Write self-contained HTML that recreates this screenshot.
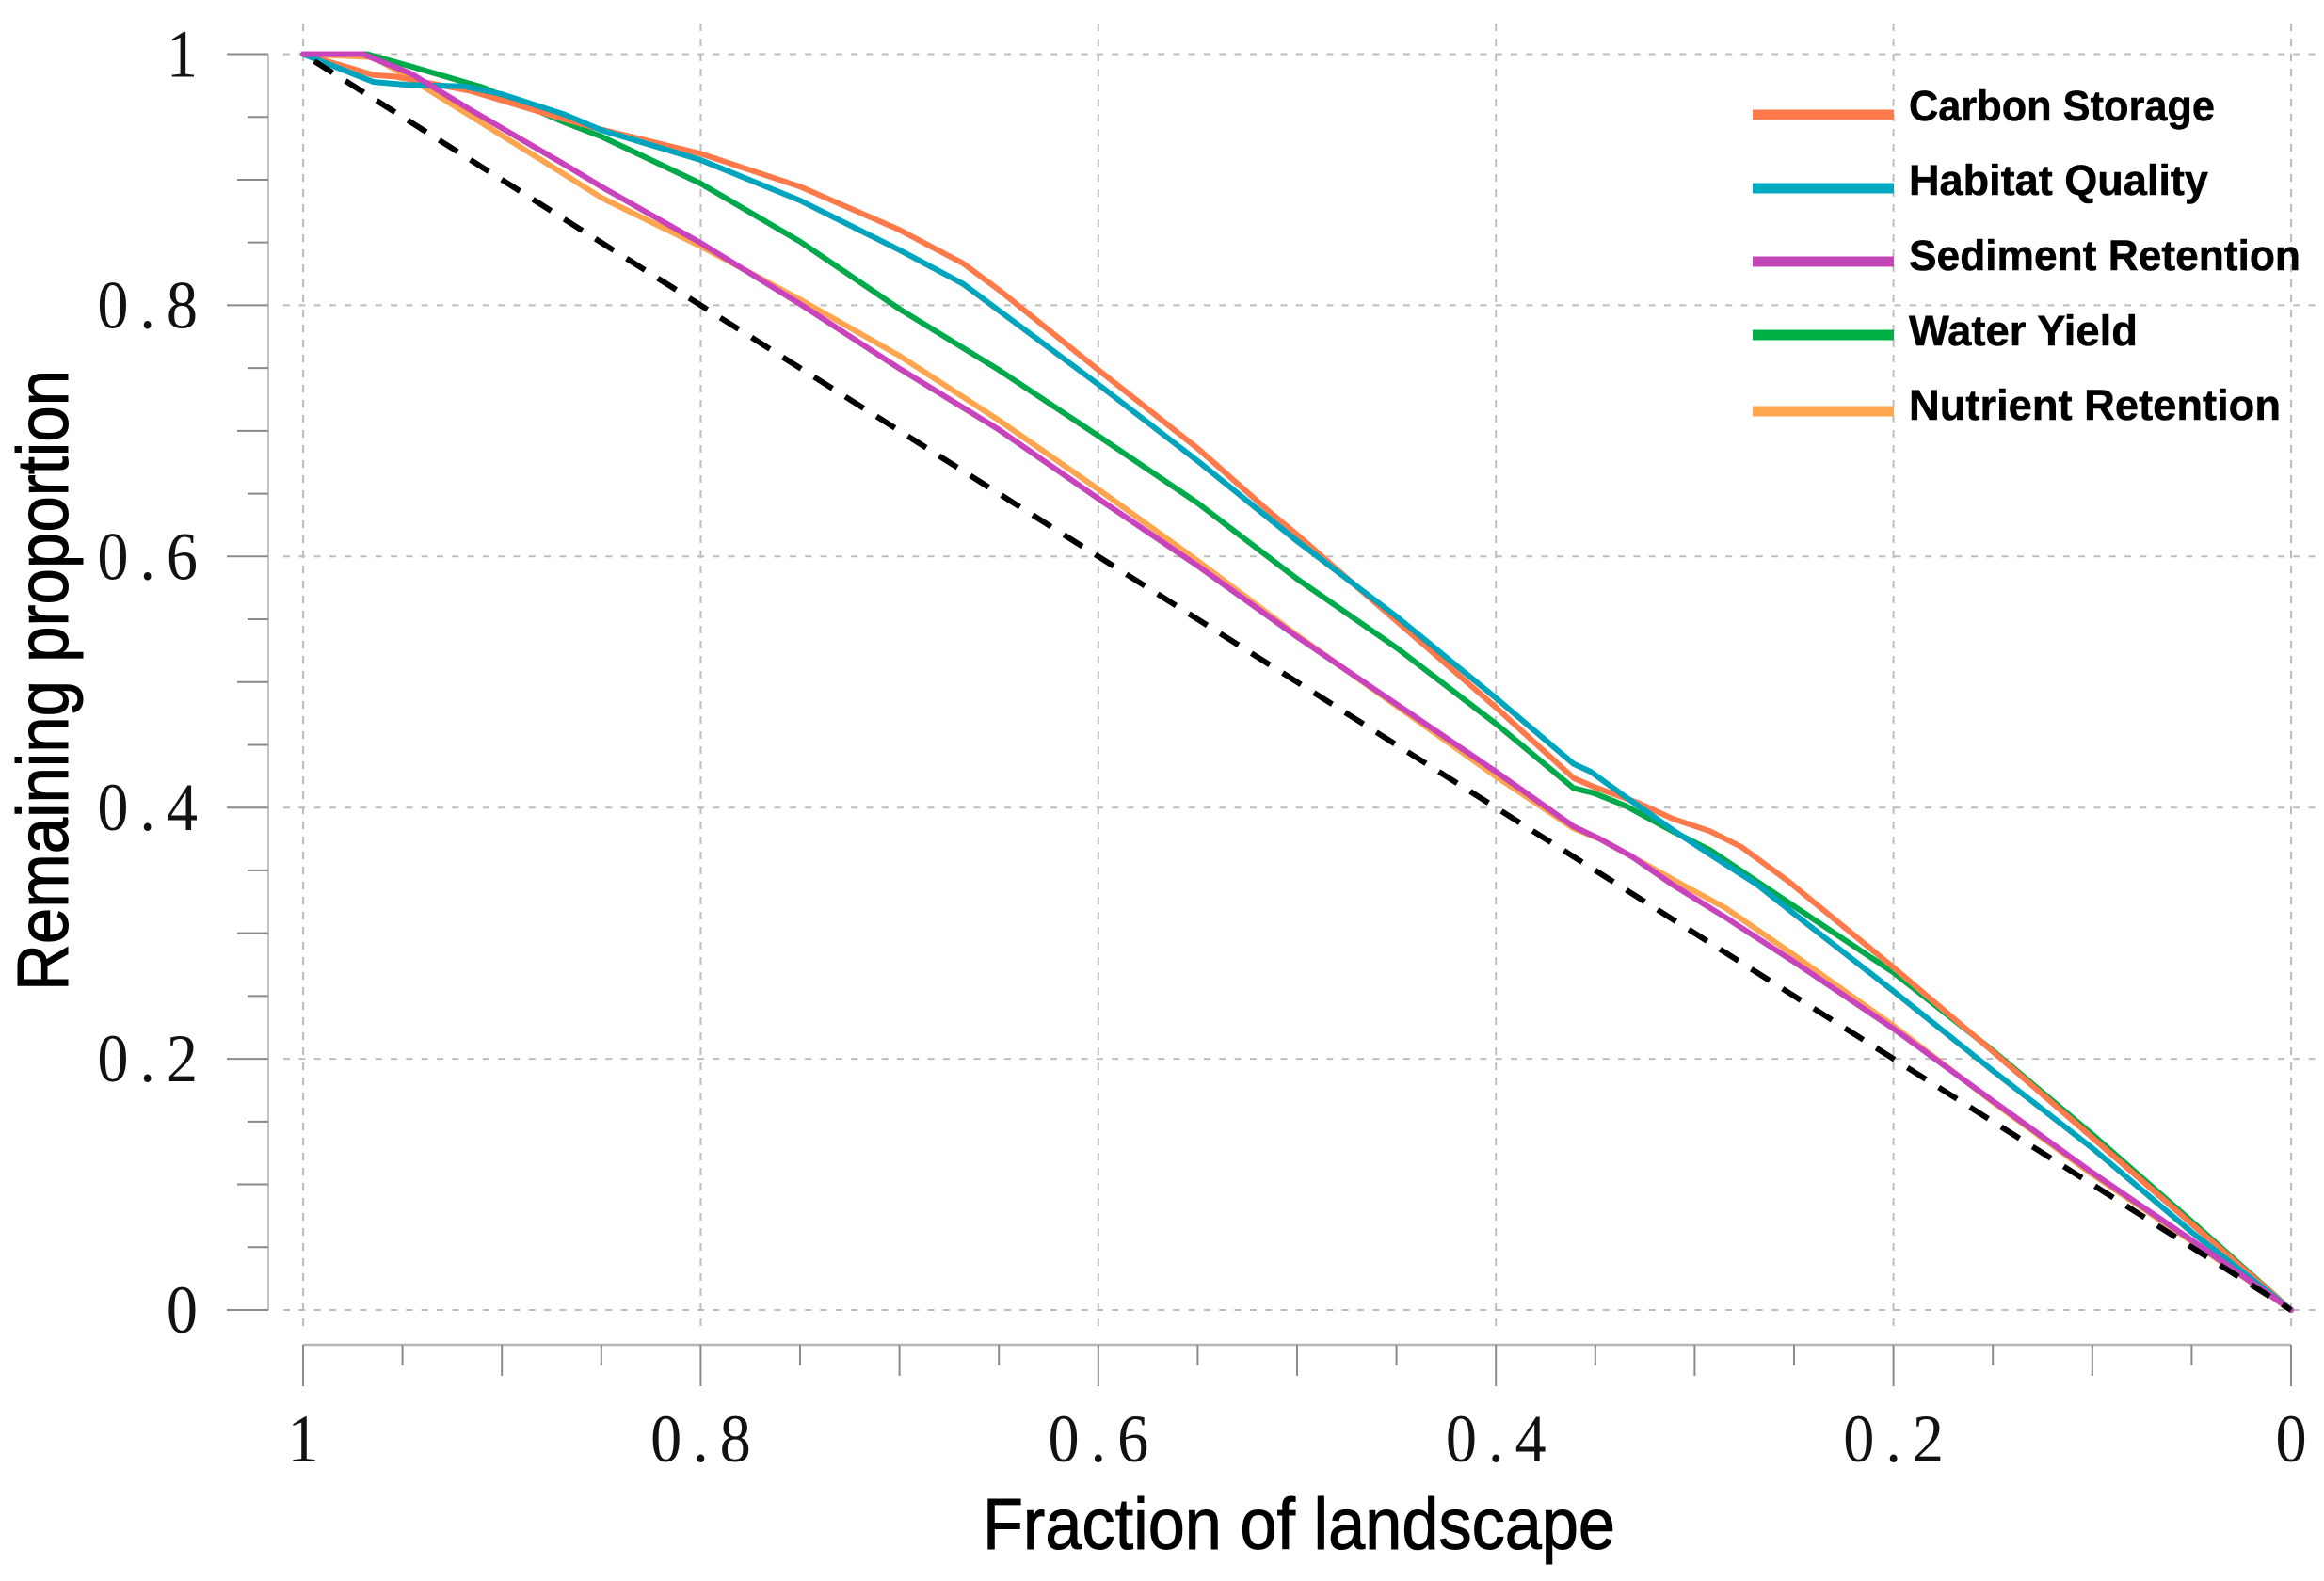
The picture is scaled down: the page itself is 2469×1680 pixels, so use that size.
<!DOCTYPE html>
<html lang="en">
<head>
<meta charset="utf-8">
<title>Remaining proportion vs fraction of landscape</title>
<style>
  html, body { margin: 0; padding: 0; background: #fff; }
  svg { display: block; }
  .tick-label { font-family: "Liberation Serif", serif; font-size: 72px; fill: #111; letter-spacing: 13px; }
  .axis-title { font-family: "Liberation Sans", sans-serif; font-size: 77px; fill: #000; stroke: #000; stroke-width: 1; }
  .legend-label { font-family: "Liberation Sans", sans-serif; font-weight: bold; font-size: 45px; fill: #000; stroke: #000; stroke-width: 0.5; }
</style>
</head>
<body>
<svg id="chart" xmlns="http://www.w3.org/2000/svg" width="2469" height="1680" viewBox="0 0 2469 1680">
  <rect x="0" y="0" width="2469" height="1680" fill="#ffffff"></rect>
  <g id="grid"></g>
  <g id="axes"></g>
  <g id="marks"></g>
  <g id="legend"></g>
  <text class="axis-title" x="1044" y="1646" textLength="672" lengthAdjust="spacingAndGlyphs">Fraction of landscape</text>
  <text class="axis-title" transform="translate(72,1053) rotate(-90)" x="0" y="0" textLength="660" lengthAdjust="spacingAndGlyphs">Remaining proportion</text>
</svg>
<script>
const xTickValues = [1, 0.8, 0.6, 0.4, 0.2, 0];
const xTickLabels = ['1', '0.8', '0.6', '0.4', '0.2', '0'];
const yTickValues = [1, 0.8, 0.6, 0.4, 0.2, 0];
const yTickLabels = ['1', '0.8', '0.6', '0.4', '0.2', '0'];

const seriesNames = ['Carbon Storage', 'Habitat Quality', 'Sediment Retention', 'Water Yield', 'Nutrient Retention'];

const referenceX = [1, 0];
const referenceY = [1, 0];

const carbonX = [1, 0.9646, 0.9536, 0.9157, 0.8684, 0.85, 0.8, 0.75, 0.7, 0.668, 0.65, 0.6, 0.55, 0.5133, 0.5, 0.45, 0.4, 0.361, 0.35, 0.3286, 0.3112, 0.2923, 0.2765, 0.2528, 0.2, 0.15, 0.1, 0.05, 0];
const carbonY = [1, 0.9834, 0.9821, 0.9706, 0.9481, 0.94, 0.9207, 0.8945, 0.86, 0.8333, 0.8122, 0.7485, 0.686, 0.6347, 0.6173, 0.5485, 0.4798, 0.4236, 0.4161, 0.4038, 0.3912, 0.3812, 0.3687, 0.3412, 0.2727, 0.2057, 0.1372, 0.0685, 0];

const habitatX = [1, 0.9646, 0.9477, 0.9192, 0.9, 0.8684, 0.85, 0.8, 0.75, 0.7, 0.668, 0.65, 0.6, 0.55, 0.5, 0.45, 0.4, 0.361, 0.3523, 0.3349, 0.3112, 0.2923, 0.2686, 0.25, 0.2, 0.15, 0.1, 0.05, 0];
const habitatY = [1, 0.9778, 0.9756, 0.9744, 0.9681, 0.9519, 0.9395, 0.9157, 0.8835, 0.844, 0.817, 0.7958, 0.737, 0.676, 0.6122, 0.5522, 0.4873, 0.4349, 0.4286, 0.4086, 0.3824, 0.3627, 0.3387, 0.3155, 0.2538, 0.1905, 0.1289, 0.062, 0];

const waterX = [1, 0.9678, 0.9441, 0.9092, 0.8684, 0.85, 0.8, 0.75, 0.7, 0.65, 0.6, 0.55, 0.5, 0.45, 0.4, 0.361, 0.3508, 0.3349, 0.3112, 0.2923, 0.2686, 0.25, 0.2, 0.15, 0.1, 0.05, 0];
const waterY = [1, 1, 0.9894, 0.9733, 0.9456, 0.9344, 0.897, 0.8507, 0.797, 0.7485, 0.696, 0.6425, 0.5822, 0.5273, 0.4668, 0.4156, 0.4116, 0.4016, 0.3812, 0.3662, 0.3412, 0.3215, 0.2687, 0.2065, 0.1398, 0.0705, 0];

const sedimentX = [1, 0.97, 0.9457, 0.9157, 0.8684, 0.85, 0.8, 0.75, 0.7, 0.65, 0.6, 0.55, 0.5, 0.45, 0.4, 0.361, 0.3475, 0.3317, 0.3112, 0.2844, 0.25, 0.2, 0.15, 0.1, 0.05, 0];
const sedimentY = [1, 1, 0.9844, 0.9556, 0.912, 0.8945, 0.8496, 0.801, 0.7496, 0.7009, 0.646, 0.5925, 0.536, 0.4824, 0.4286, 0.385, 0.3749, 0.3612, 0.3387, 0.3125, 0.2772, 0.224, 0.1664, 0.1094, 0.0555, 0];

const nutrientX = [1, 0.9646, 0.9477, 0.9157, 0.8717, 0.85, 0.8, 0.75, 0.7, 0.65, 0.6, 0.55, 0.5, 0.45, 0.4, 0.361, 0.3475, 0.3081, 0.2844, 0.25, 0.2, 0.15, 0.1, 0.05, 0];
const nutrientY = [1, 0.9975, 0.9821, 0.9507, 0.9073, 0.8857, 0.847, 0.8045, 0.7597, 0.7084, 0.6534, 0.5965, 0.5372, 0.4811, 0.4249, 0.3835, 0.3749, 0.3402, 0.32, 0.2825, 0.2262, 0.1655, 0.108, 0.0545, 0];

const NS = 'http://www.w3.org/2000/svg';
const xScale = v => 2434 - v * 2112;
const yScale = v => 1392 - v * 1334.5;

function make(parent, tag, props, text) {
  const el = document.createElementNS(NS, tag);
  for (const k in props) el.setAttribute(k, props[k]);
  if (text !== undefined) el.textContent = text;
  parent.appendChild(el);
  return el;
}
function linePath(xs, ys) {
  return xs.map((x, i) => (i ? 'L' : 'M') + xScale(x).toFixed(1) + ' ' + yScale(ys[i]).toFixed(1)).join(' ');
}

const gridG = document.getElementById('grid');
const axesG = document.getElementById('axes');
const marksG = document.getElementById('marks');
const legendG = document.getElementById('legend');

yTickValues.forEach(v => {
  const l = make(gridG, 'line', { x1: 301, x2: 2460, y1: yScale(v), y2: yScale(v), stroke: '#bdbdbd', 'stroke-width': 2, 'stroke-dasharray': '7 9.3' });
  
  
});
xTickValues.forEach(v => {
  const l = make(gridG, 'line', { x1: xScale(v), x2: xScale(v), y1: 25, y2: 1414, stroke: '#bdbdbd', 'stroke-width': 2, 'stroke-dasharray': '8 8' });
  
  
});

const yAxisLine = make(axesG, 'line', { x1: 285, x2: 285, y1: yScale(1), y2: yScale(0), stroke: '#c4c4c4', 'stroke-width': 2 });


const xAxisLine = make(axesG, 'line', { x1: xScale(1), x2: xScale(0), y1: 1429, y2: 1429, stroke: '#b5b5b5', 'stroke-width': 2.5 });



for (let i = 0; i <= 20; i++) {
  const v = i / 20;
  const len = i % 4 === 0 ? 44 : (i % 2 === 0 ? 33 : 22);
  const ty = make(axesG, 'line', { x1: 285 - len, x2: 285, y1: yScale(v), y2: yScale(v), stroke: '#8a8a8a', 'stroke-width': 2 });
  
  
  const tx = make(axesG, 'line', { x1: xScale(v), x2: xScale(v), y1: 1429, y2: 1429 + len, stroke: '#8a8a8a', 'stroke-width': 2 });
  
  
}

xTickValues.forEach((v, i) => {
  const t = make(axesG, 'text', { class: 'tick-label', transform: 'translate(' + (xScale(v) + 6) + ',1553) scale(0.92,1)', 'text-anchor': 'middle' }, xTickLabels[i]);
  
  
});
yTickValues.forEach((v, i) => {
  const t = make(axesG, 'text', { class: 'tick-label', transform: 'translate(222,' + (yScale(v) + 24) + ') scale(0.92,1)', 'text-anchor': 'end' }, yTickLabels[i]);
  
  
});

const common = { fill: 'none', 'stroke-width': 6, 'stroke-linejoin': 'round', 'stroke-linecap': 'round' };
const nutrientLine = make(marksG, 'path', Object.assign({ d: linePath(nutrientX, nutrientY), stroke: '#FFA44F' }, common));


const waterLine = make(marksG, 'path', Object.assign({ d: linePath(waterX, waterY), stroke: '#00A94A' }, common));


const carbonLine = make(marksG, 'path', Object.assign({ d: linePath(carbonX, carbonY), stroke: '#FF7A4A' }, common));


const habitatLine = make(marksG, 'path', Object.assign({ d: linePath(habitatX, habitatY), stroke: '#00A5BD' }, common));


const sedimentLine = make(marksG, 'path', Object.assign({ d: linePath(sedimentX, sedimentY), stroke: '#C843BC' }, common));


const referenceLine = make(marksG, 'path', { d: linePath(referenceX, referenceY), fill: 'none', stroke: '#000', 'stroke-width': 6, 'stroke-dasharray': '23 16.26', 'stroke-dashoffset': -14 });



const legendColors = ['#FF7A4A', '#00A9BF', '#C445B5', '#00AE44', '#FFA64F'];
const legendLengths = [325, 318, 416, 243, 395];
const swatchRows = [122, 200, 278, 356, 437];
const labelRows = [128, 207, 287, 367, 446];
seriesNames.forEach((name, i) => {
  const sw = make(legendG, 'rect', { x: 1862, y: swatchRows[i] - 5.5, width: 150, height: 11, fill: legendColors[i] });
  
  
  const tx = make(legendG, 'text', { class: 'legend-label', x: 2028, y: labelRows[i], textLength: legendLengths[i], lengthAdjust: 'spacingAndGlyphs' }, name);
  
  
});
</script>
</body>
</html>
